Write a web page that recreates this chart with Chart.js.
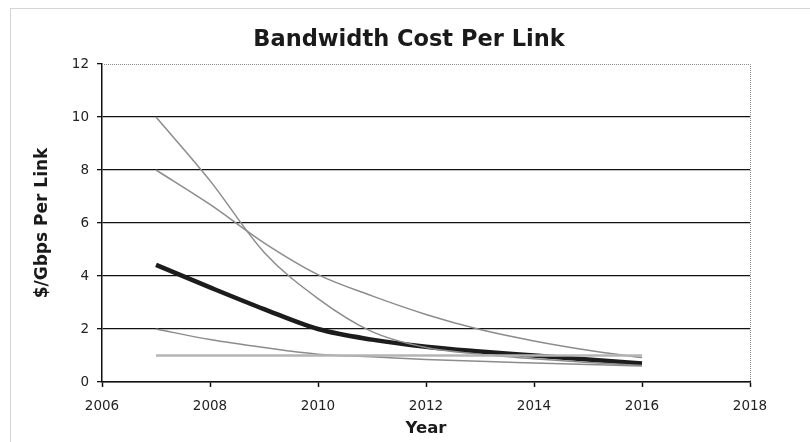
<!DOCTYPE html>
<html>
<head>
<meta charset="utf-8">
<script src="https://cdn.jsdelivr.net/npm/chart.js@4/dist/chart.umd.min.js"></script>
<style>
  html, body { margin: 0; padding: 0; background: #ffffff; }
  #wrap { width: 810px; height: 442px; }
</style>
</head>
<body>
<div id="wrap"><canvas id="c" width="810" height="442"></canvas></div>
<script>
// Years covered by each cost projection
const years = [2007, 2008, 2009, 2010, 2011, 2012, 2013, 2014, 2015, 2016];

// Cost projections, $/Gbps per link
const steepDecline = [10, 7.6, 4.9, 3.15, 1.9, 1.3, 1.05, 0.88, 0.74, 0.62];
const gradualDecline = [8, 6.7, 5.25, 4.05, 3.25, 2.55, 1.98, 1.55, 1.2, 0.92];
const averageCost = [4.42, 3.57, 2.75, 2.0, 1.6, 1.33, 1.15, 1.0, 0.85, 0.7];
const lowDecline = [2.0, 1.6, 1.3, 1.05, 0.95, 0.85, 0.78, 0.72, 0.66, 0.6];
const flatCost = [1, 1, 1, 1, 1, 1, 1, 1, 1, 1];

// Axis ranges and tick steps
const xTicks = [2006, 2008, 2010, 2012, 2014, 2016, 2018];
const yTicks = [0, 2, 4, 6, 8, 10, 12];

const pts = (vals) => years.map((y, i) => ({ x: y, y: vals[i] }));

const FONT = 'DejaVu Sans, Verdana, sans-serif';

// Dotted frame round the chart, plus dotted top/right edges of the plot area
const framePlugin = {
  id: 'frame',
  beforeDraw(chart) {
    const ctx = chart.ctx;
    ctx.save();
    ctx.fillStyle = '#ffffff';
    ctx.fillRect(0, 0, chart.width, chart.height);
    ctx.strokeStyle = '#a8a8a8';
    ctx.lineWidth = 1;
    ctx.setLineDash([1, 1]);
    ctx.strokeRect(10.5, 8.5, chart.width + 10, chart.height + 10);
    ctx.restore();
  },
  afterDatasetsDraw(chart) {
    const { ctx, chartArea: a, scales } = chart;
    const yTop = Math.round(scales.y.getPixelForValue(yTicks[yTicks.length - 1])) + 0.5;
    const xRight = Math.round(a.right) + 0.5;
    ctx.save();
    ctx.strokeStyle = '#8a8a8a';
    ctx.lineWidth = 1;
    ctx.setLineDash([1, 1]);
    ctx.beginPath();
    ctx.moveTo(a.left, yTop);
    ctx.lineTo(xRight, yTop);
    ctx.lineTo(xRight, a.bottom);
    ctx.stroke();
    ctx.restore();
  }
};

const series = (data, color, width) => ({
  data: pts(data),
  borderColor: color,
  borderWidth: width,
  pointRadius: 0,
  fill: false,
  cubicInterpolationMode: 'monotone'
});

new Chart(document.getElementById('c'), {
  type: 'line',
  data: {
    datasets: [
      series(flatCost, '#b4b4b4', 2.5),
      series(lowDecline, '#8c8c8c', 1.5),
      series(gradualDecline, '#8c8c8c', 1.5),
      series(steepDecline, '#8c8c8c', 1.5),
      series(averageCost, '#1c1c1c', 4.5)
    ]
  },
  options: {
    responsive: false,
    animation: false,
    layout: { padding: { left: 8, right: 0, top: 0, bottom: 0 } },
    plugins: {
      legend: { display: false },
      tooltip: { enabled: false },
      title: {
        display: true,
        text: 'Bandwidth Cost Per Link',
        color: '#1a1a1a',
        font: { family: FONT, size: 22.5, weight: 'bold' },
        padding: { top: 27, bottom: 10 }
      }
    },
    scales: {
      x: {
        type: 'linear',
        min: xTicks[0],
        max: xTicks[xTicks.length - 1],
        afterBuildTicks(s) { s.ticks = xTicks.map(v => ({ value: v })); },
        afterFit(s) { s.height = 60; },
        ticks: {
          color: '#222',
          font: { family: FONT, size: 13.5 },
          padding: 11,
          maxRotation: 0,
          callback: (v) => String(v)
        },
        grid: {
          drawOnChartArea: false,
          drawTicks: true,
          tickLength: 5,
          tickColor: '#111',
          tickWidth: 1.5
        },
        border: { display: true, color: '#111', width: 1.5 },
        title: {
          display: true,
          text: 'Year',
          color: '#1a1a1a',
          font: { family: FONT, size: 16.5, weight: 'bold' },
          padding: { top: 0, bottom: 3 }
        }
      },
      y: {
        min: yTicks[0],
        max: yTicks[yTicks.length - 1],
        afterBuildTicks(s) { s.ticks = yTicks.map(v => ({ value: v })); },
        afterFit(s) { s.width = 94; },
        ticks: {
          color: '#222',
          font: { family: FONT, size: 13.5 },
          padding: 8
        },
        grid: {
          color: (c) => (c.tick && c.tick.value === yTicks[yTicks.length - 1]) ? 'rgba(0,0,0,0)' : '#111',
          lineWidth: 1.3,
          drawTicks: true,
          tickLength: 5,
          tickColor: '#111'
        },
        border: { display: true, color: '#111', width: 1.5 },
        title: {
          display: true,
          text: '$/Gbps Per Link',
          color: '#1a1a1a',
          font: { family: FONT, size: 17, weight: 'bold' },
          padding: { top: 24, bottom: 0 }
        }
      },
      yRight: {
        position: 'right',
        min: 0,
        max: 12,
        afterFit(s) { s.width = 60; },
        ticks: { display: false },
        grid: { display: false },
        border: { display: false }
      }
    }
  },
  plugins: [framePlugin]
});
</script>
</body>
</html>
